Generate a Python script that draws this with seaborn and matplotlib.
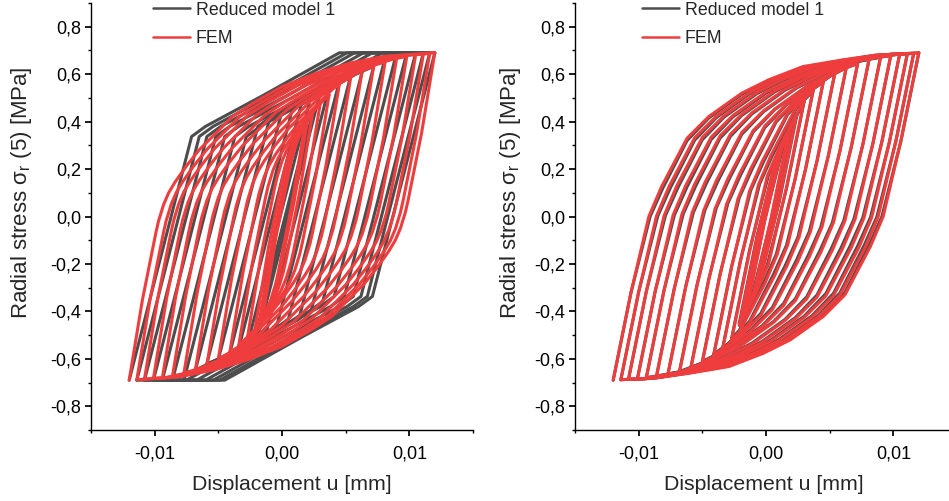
import numpy as np
import pandas as pd
import seaborn as sns
import matplotlib.pyplot as plt
from matplotlib.lines import Line2D
from matplotlib.ticker import FuncFormatter, MultipleLocator

# === Datos ===
# desplazamientos de inversión [mm] (arriba / abajo), del ciclo mayor al menor
U_TOP = [0.0120, 0.0116, 0.0111, 0.0105, 0.0098, 0.0090, 0.0081, 0.0072,
         0.0063, 0.0054, 0.0045, 0.0037, 0.0030, 0.0024, 0.0020, 0.0018, 0.0017]
U_BOT = [-0.0120, -0.0114, -0.0108, -0.0101, -0.0094, -0.0086, -0.0077, -0.0068,
         -0.0059, -0.0050, -0.0041, -0.0034, -0.0027, -0.0021, -0.0018, -0.0016, -0.0015]
S_MAX = 0.69  # tensión de saturación [MPa]

# rama ascendente exterior, leída respecto a la esquina inferior (-0.012, -0.69)
# panel izquierdo
RM1_L_DU = [0, 0.0049, 0.0060, 0.0105, 0.0165]
RM1_L_DS = [0, 1.027, 1.07, 1.20, 1.38]
FEM_L_DU = [0, 0.00104, 0.00209, 0.0023, 0.0027, 0.0031, 0.0036, 0.00445, 0.0055,
            0.0068, 0.0081, 0.0097, 0.0120, 0.0147, 0.0173, 0.0199, 0.0238]
FEM_L_DS = [0, 0.339, 0.62, 0.67, 0.74, 0.79, 0.835, 0.90, 0.971,
            1.041, 1.111, 1.167, 1.237, 1.294, 1.336, 1.364, 1.38]
# panel derecho
RM1_R_DU = [0, 0.0014, 0.0029, 0.0039, 0.0058, 0.0075, 0.0101, 0.0122, 0.0150, 0.0180, 0.0206, 0.0241]
RM1_R_DS = [0, 0.37, 0.69, 0.81, 1.01, 1.105, 1.205, 1.262, 1.318, 1.348, 1.37, 1.38]
FEM_R_DU = [0, 0.0014, 0.0028, 0.0038, 0.0058, 0.0075, 0.0101, 0.0122, 0.0149, 0.0180, 0.0206, 0.0241]
FEM_R_DS = [0, 0.37, 0.69, 0.816, 1.02, 1.111, 1.21, 1.266, 1.322, 1.35, 1.37, 1.38]

GRIS = "#4d4d4d"
ROJO = "#ef3d3d"


def rama(u0, s0, u1, du, ds):
    """Rama desde el punto de inversión (u0, s0) hasta el desplazamiento u1."""
    d = 1.0 if u1 > u0 else -1.0
    u = u0 + d * np.asarray(du)
    s = np.clip(s0 + d * np.asarray(ds), -S_MAX, S_MAX)
    u = np.append(u, u0 + d * 0.05)
    s = np.append(s, s[-1])
    n = np.searchsorted(d * u, d * u1)
    s1 = np.interp(d * u1, d * u, s)
    return np.append(u[:n], u1), np.append(s[:n], s1)


def ciclos(modelo, du, ds):
    filas = []
    u0, s0 = U_BOT[0], -S_MAX
    destinos = []
    for k in range(len(U_TOP)):
        destinos.append(U_TOP[k])
        if k + 1 < len(U_BOT):
            destinos.append(U_BOT[k + 1])
    for i, u1 in enumerate(destinos):
        u, s = rama(u0, s0, u1, du, ds)
        filas.append(pd.DataFrame({"u": u, "s": s, "modelo": modelo, "rama": i}))
        u0, s0 = u[-1], s[-1]
    return pd.concat(filas)


df_izq = pd.concat([ciclos("Reduced model 1", RM1_L_DU, RM1_L_DS),
                    ciclos("FEM", FEM_L_DU, FEM_L_DS)])
df_der = pd.concat([ciclos("Reduced model 1", RM1_R_DU, RM1_R_DS),
                    ciclos("FEM", FEM_R_DU, FEM_R_DS)])

sns.set_theme(style="ticks")
plt.rcParams["font.family"] = ["Liberation Sans", "DejaVu Sans"]
plt.rcParams["axes.linewidth"] = 1.0
plt.rcParams["xtick.major.size"] = 4
plt.rcParams["ytick.major.size"] = 4
plt.rcParams["xtick.minor.size"] = 2.5
plt.rcParams["ytick.minor.size"] = 2.5
plt.rcParams["xtick.color"] = "black"
plt.rcParams["ytick.color"] = "black"
plt.rcParams["axes.edgecolor"] = "black"

fig = plt.figure(figsize=(9.49, 5.01), dpi=100)
ax1 = fig.add_axes([91 / 949, 71 / 501, 382 / 949, 427 / 501])
ax2 = fig.add_axes([575 / 949, 71 / 501, 382 / 949, 427 / 501])

coma = lambda dec: FuncFormatter(lambda v, p: f"{v:.{dec}f}".replace(".", ",").replace("-0,00", "0,00"))

for ax, df, ylab_x, xlab_x, leg_x in [(ax1, df_izq, -0.15, 0.526, 153),
                                      (ax2, df_der, -0.137, 0.493, 642)]:
    sns.lineplot(data=df, x="u", y="s", hue="modelo", units="rama", estimator=None,
                 sort=False, palette={"Reduced model 1": GRIS, "FEM": ROJO},
                 hue_order=["Reduced model 1", "FEM"], linewidth=2.2, legend=False, ax=ax)
    ax.set_xlim(-0.015, 0.015)
    ax.set_ylim(-0.9, 0.9)
    ax.xaxis.set_major_locator(MultipleLocator(0.01))
    ax.xaxis.set_minor_locator(MultipleLocator(0.005))
    ax.yaxis.set_major_locator(MultipleLocator(0.2))
    ax.yaxis.set_minor_locator(MultipleLocator(0.1))
    ax.xaxis.set_major_formatter(coma(2))
    ax.yaxis.set_major_formatter(coma(1))
    ax.tick_params(axis="both", which="major", labelsize=13)
    ax.tick_params(axis="x", which="major", pad=7)
    ax.tick_params(axis="y", which="major", pad=3)
    sns.despine(ax=ax)
    ax.set_xlabel("Displacement u [mm]", fontsize=15.3)
    ax.set_ylabel("Radial stress σ$_\\mathregular{r}$ (5) [MPa]", fontsize=16)
    ax.xaxis.set_label_coords(xlab_x, -0.105)
    ax.yaxis.set_label_coords(ylab_x, 0.556)

    manijas = [Line2D([], [], color=GRIS, lw=1.8), Line2D([], [], color=ROJO, lw=1.8)]
    ax.legend(manijas, ["Reduced model 1", "FEM"], loc="upper left", frameon=False,
              bbox_to_anchor=(leg_x / 949, 0.997), bbox_transform=fig.transFigure,
              fontsize=12.8, borderpad=0, borderaxespad=0, handlelength=2.1,
              handletextpad=0.3, labelspacing=0.65)

fig.savefig("out.png", dpi=100)
